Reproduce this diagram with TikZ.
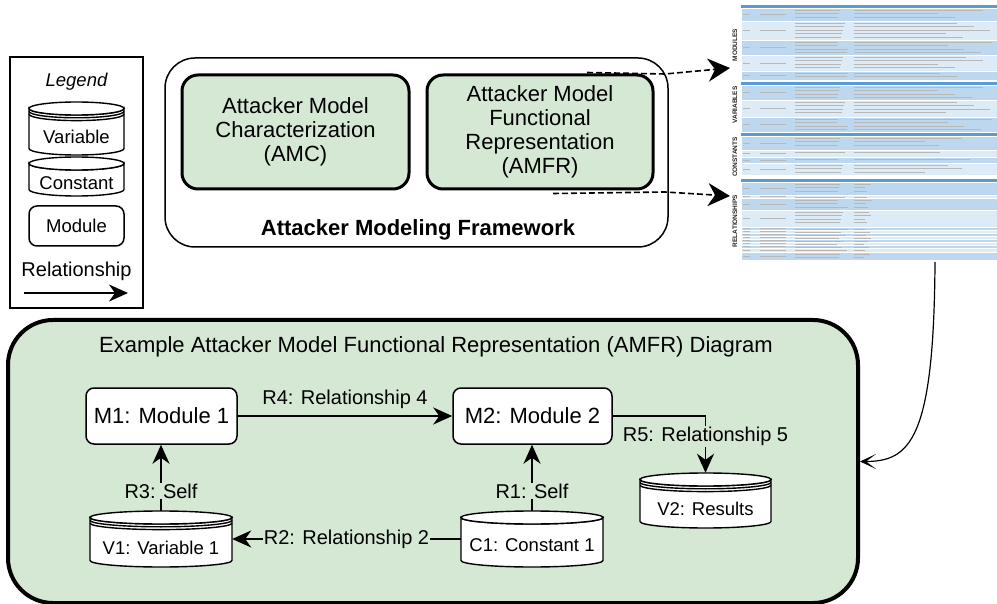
\documentclass[tikz,border=0pt]{standalone}
\usepackage{fontspec}
\setmainfont{Liberation Sans}
\usetikzlibrary{arrows.meta}
\definecolor{amfrgreen}{HTML}{D5E8D4}
\definecolor{hdrblue}{HTML}{5B9BD5}
\definecolor{rowdark}{HTML}{BDD7EE}
\definecolor{rowlight}{HTML}{DDEBF7}
\def\bigtxt{\fontsize{22}{24}\selectfont}
\def\reltxt{\fontsize{20}{22}\selectfont}
\def\smalltxt{\fontsize{18.5}{20}\selectfont}
\tikzset{
  module/.style={draw, line width=1.5pt, rounded corners=8pt, fill=white, inner sep=0pt, font=\bigtxt},
  block/.style={draw, line width=3pt, rounded corners=16pt, fill=amfrgreen, inner sep=0pt, align=center, font=\bigtxt},
  drumline/.style={draw, line width=1.4pt, fill=white},
  drumtext/.style={inner sep=0pt, font=\smalltxt},
  rel/.style={line width=1.8pt, -{Stealth[length=19pt,width=17pt,inset=6pt]}},
  lbl/.style={fill=amfrgreen, inner sep=1pt, font=\reltxt},
  dashline/.style={line width=1.6pt, dash pattern=on 6pt off 3pt, -{Stealth[length=22pt,width=23pt,inset=7pt]}},
  curvearrow/.style={line width=1.2pt, -{Stealth[length=16pt,width=15pt,inset=10pt]}},
  fakeline/.style={black!28, line width=0.7pt},
  seclabel/.style={font=\bfseries\fontsize{6.5}{6.5}\selectfont, rotate=90, black!85, inner sep=0pt}
}
% cylinder: name, x1, y1, x2, y2, stacked arcs, text
\newcommand{\drum}[7]{%
  \pgfmathsetmacro\drx{(#4-#2)/2}%
  \pgfmathsetmacro\dyt{#3+6.5}%
  \pgfmathsetmacro\dyb{#5-6.5}%
  \draw[drumline] (#2,\dyt) -- (#2,\dyb) arc[start angle=180,end angle=0,x radius=\drx,y radius=6.5] -- (#4,\dyt) arc[start angle=0,end angle=180,x radius=\drx,y radius=6.5] -- cycle;
  \draw[drumline] ({(#2+#4)/2},\dyt) ellipse[x radius=\drx,y radius=6.5];
  \ifnum#6>0 \foreach \d in {1,...,#6} {\draw[drumline,fill=none] (#2,{\dyt+2.8*\d}) arc[start angle=180,end angle=0,x radius=\drx,y radius=6.5];}\fi
  \node[inner sep=0pt, minimum width={(#4-#2)*1pt}, minimum height={(#5-#3)*1pt}] (#1) at ({(#2+#4)/2},{(#3+#5)/2}) {};
  \node[drumtext] at ({(#2+#4)/2},{(#3+13+#5)/2+#6}) {#7};
}
% table rows: list of top/bottom, end of last column
\newcommand{\tblrows}[2]{%
  \foreach \ya/\yb [count=\i] in {#1} {%
    \pgfmathtruncatemacro\odd{mod(\i,2)}%
    \pgfmathtruncatemacro\nl{max(1,floor((\yb-\ya-1)/3.4))}%
    \ifnum\odd=1 \def\rowcol{rowdark}\else\def\rowcol{rowlight}\fi
    \filldraw[fill=\rowcol, draw=white, line width=0.3pt] (741,\ya) rectangle (997,\yb);
    \draw[fakeline] (743,{(\ya+\yb)/2}) -- (750,{(\ya+\yb)/2});
    \draw[fakeline] (760,{(\ya+\yb)/2}) -- (786,{(\ya+\yb)/2});
    \foreach \k in {1,...,\nl} {
      \draw[fakeline] (795,{\ya+0.6+(\k-0.5)*3.4}) -- ({848-mod(\k*13+\i*7,12)},{\ya+0.6+(\k-0.5)*3.4});
      \draw[fakeline] (854,{\ya+0.6+(\k-0.5)*3.4}) -- ({#2-mod(\k*29+\i*17,40)*(#2-854)/90},{\ya+0.6+(\k-0.5)*3.4});
    }
  }}

\begin{document}
\begin{tikzpicture}[x=1pt,y=-1pt]
\useasboundingbox (0,0) rectangle (997,604);

% legend
\node[draw, line width=1.5pt, minimum width=133pt, minimum height=251pt, inner sep=0pt] (legend) at (76.5,182.5) {};
\node[font=\itshape\smalltxt] (legtitle) at (76.5,82) {Legend};
\drum{lvar}{29}{102}{124}{155}{2}{Variable}
\drum{lconst}{29}{157}{124}{196}{0}{Constant}
\node[module, font=\smalltxt, minimum width=95pt, minimum height=40pt] (lmod) at (76.5,226) {Module};
\node[font=\reltxt] (lrel) at (76.5,271) {Relationship};
\coordinate (la) at (24,293);
\coordinate (lb) at (128,293);
\draw[rel] (la) -- (lb);

% framework
\node[draw, line width=1.5pt, rounded corners=30pt, minimum width=503pt, minimum height=189pt] (frame) at (416.5,152.5) {};
\node[block, minimum width=227pt, minimum height=114pt] (amc) at (295.5,132) {Attacker Model\\Characterization\\(AMC)};
\node[block, minimum width=226pt, minimum height=114pt] (amfr) at (540,132) {Attacker Model\\Functional\\Representation\\(AMFR)};
\node[font=\bfseries\bigtxt] (frametitle) at (418,230) {Attacker Modeling Framework};

% table picture
\fill[hdrblue] (741,5) rectangle (997,8);
\tblrows{8/21,21/40,40/55,55/71,71/80}{992}
\fill[hdrblue] (741,82) rectangle (997,85);
\tblrows{85/100,100/117,117/132}{992}
\fill[hdrblue] (741,133) rectangle (997,136);
\tblrows{136/150,150/157,157/163,163/175}{970}
\fill[hdrblue] (741,179) rectangle (997,182);
\tblrows{182/195,195/198,198/210,210/227,227/230,230/233,233/236,236/239,239/242,242/245,245/248,248/252,252/260}{872}
\node[seclabel] (secmod) at (735,45) {MODULES};
\node[seclabel] (secvar) at (735,105) {VARIABLES};
\node[seclabel] (seccon) at (735,157) {CONSTANTS};
\node[seclabel] (secrel) at (735,221) {RELATIONSHIPS};
\coordinate (tbltop) at (730,68);
\coordinate (tblbot) at (730,196);
\coordinate (tblfoot) at (935,262);
\draw[dashline] ([xshift=47pt,yshift=1pt]amfr.north) -- (665,74) -- (tbltop);
\draw[dashline] ([xshift=13pt,yshift=-3pt]amfr.south) -- (665,192) -- (tblbot);

% example diagram
\node[draw, line width=4pt, rounded corners=45pt, fill=amfrgreen, minimum width=850pt, minimum height=283pt] (diag) at (433,461.5) {};
\node[font=\bigtxt] (diagtitle) at (436,347) {Example Attacker Model Functional Representation (AMFR) Diagram};
\draw[curvearrow] (tblfoot) .. controls (934,440) and (910,461.5) .. (diag.east);

\node[module, minimum width=151pt, minimum height=56pt] (m1) at (161.5,416) {M1: Module 1};
\node[module, minimum width=159pt, minimum height=56pt] (m2) at (532.5,416) {M2: Module 2};
\drum{v1}{90}{511}{232}{567}{2}{V1: Variable 1}
\drum{c1}{461}{511}{603}{567}{0}{C1: Constant 1}
\drum{v2}{640}{473}{771}{528}{2}{V2: Results}

\draw[rel] (m1) -- (m2) node[midway, above=3pt, font=\reltxt] {R4: Relationship 4};
\draw[rel] (v1.north) -- (v1.north |- m1.south) node[lbl, pos=0.3] {R3: Self};
\draw[rel] (c1.north) -- (c1.north |- m2.south) node[lbl, pos=0.3] {R1: Self};
\draw[rel] (c1.west) -- (v1.east) node[lbl, pos=0.5] {R2: Relationship 2};
\draw[rel] (m2.east) -| (v2.north) node[lbl, pos=0.68] {R5: Relationship 5};
\end{tikzpicture}
\end{document}
